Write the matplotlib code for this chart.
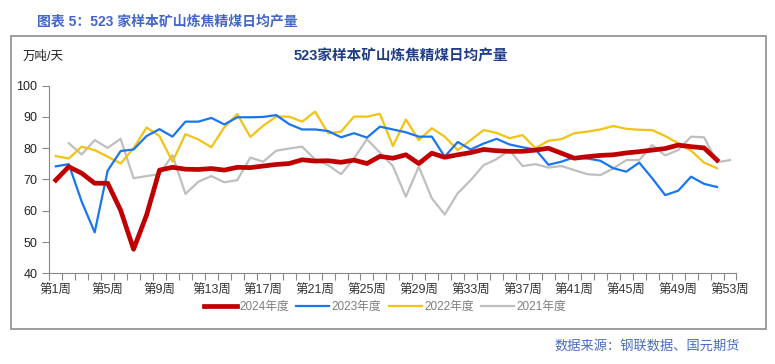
import numpy as np
import matplotlib.pyplot as plt
from matplotlib.patches import Rectangle

plt.rcParams['font.family'] = ['Liberation Sans', 'Noto Sans CJK SC', 'DejaVu Sans']

# weekly average daily output, 10k t/day
weeks = np.arange(1, 54)
y2024 = [69.8, 74.1, 72.0, 68.8, 68.8, 60.2, 47.7, 58.6, 73.0, 73.9,
         73.3, 73.2, 73.5, 73.0, 73.9, 73.8, 74.3, 74.8, 75.1, 76.3,
         75.9, 76.0, 75.5, 76.2, 75.1, 77.4, 76.8, 77.9, 75.1, 78.4,
         77.1, 77.9, 78.6, 79.6, 79.2, 79.0, 79.0, 79.4, 80.0, 78.4,
         76.8, 77.3, 77.7, 77.9, 78.5, 78.9, 79.4, 79.9, 81.0, 80.5,
         80.1, 76.2]
y2023 = [74.2, 74.9, 62.9, 53.1, 72.8, 79.1, 79.6, 83.9, 86.1, 83.7,
         88.5, 88.5, 89.7, 87.6, 89.9, 89.9, 90.0, 90.6, 87.7, 86.0,
         86.0, 85.5, 83.5, 84.8, 83.4, 86.9, 86.0, 85.1, 83.7, 83.7,
         77.3, 82.0, 79.6, 81.5, 83.0, 81.2, 80.3, 79.6, 74.7, 75.7,
         77.1, 76.7, 76.0, 73.6, 72.5, 75.4, 70.4, 65.0, 66.4, 70.9,
         68.6, 67.6]
y2022 = [77.5, 76.7, 80.5, 79.4, 77.3, 75.1, 80.0, 86.6, 83.9, 75.7,
         84.5, 82.8, 80.3, 86.7, 90.9, 83.6, 87.2, 90.1, 90.1, 88.5,
         91.7, 84.8, 85.3, 90.1, 90.1, 91.0, 80.7, 89.2, 82.6, 86.4,
         83.7, 79.4, 82.6, 85.8, 84.9, 83.2, 84.2, 80.0, 82.4, 82.9,
         84.8, 85.3, 86.0, 87.1, 86.2, 85.9, 85.8, 83.9, 81.6, 79.2,
         75.4, 73.6]
y2021 = [np.nan, 81.6, 78.0, 82.6, 80.1, 83.0, 70.4, 71.1, 71.7, 77.8,
         65.4, 69.3, 71.1, 69.1, 69.8, 77.0, 75.7, 79.2, 79.9, 80.5,
         76.4, 74.6, 71.7, 76.7, 82.9, 78.6, 74.3, 64.5, 74.1, 64.0,
         58.8, 65.6, 69.8, 74.6, 76.5, 79.4, 74.3, 74.9, 73.8, 74.3,
         73.0, 71.7, 71.4, 73.5, 76.2, 76.2, 81.0, 77.7, 79.4, 83.7,
         83.5, 75.5, 76.2]
tick_weeks = list(range(1, 54, 4))
tick_labels = ['第%d周' % w for w in tick_weeks]

fig = plt.figure(figsize=(7.75, 3.64), dpi=100)
ax = fig.add_axes([0.0636, 0.2492, 0.8867, 0.5154])

ax.plot(weeks[:len(y2021)], y2021, color='#BFBFBF', lw=1.6, label='2021年度', zorder=2)
ax.plot(weeks[:len(y2022)], y2022, color='#F2C314', lw=1.6, label='2022年度', zorder=3)
ax.plot(weeks[:len(y2023)], y2023, color='#1A75F0', lw=1.6, label='2023年度', zorder=4)
ax.plot(weeks[:len(y2024)], y2024, color='#C00000', lw=3.4, label='2024年度', zorder=5,
        solid_joinstyle='round')

ax.set_xlim(0.5, 53.5)
ax.set_ylim(40, 100)
ax.set_yticks(range(40, 101, 10))
ax.set_xticks(np.arange(0.5, 54, 1), minor=False)
ax.set_xticklabels([])
ax.set_xticks(tick_weeks, minor=True)
ax.set_xticklabels(tick_labels, minor=True)
ax.tick_params(axis='x', which='major', length=5, color='#888888')
ax.tick_params(axis='x', which='minor', length=0, labelsize=9, labelcolor='#333333', pad=8)
ax.tick_params(axis='y', length=5, color='#888888', labelsize=9, labelcolor='#222222')
for s in ['top', 'right']:
    ax.spines[s].set_visible(False)
for s in ['left', 'bottom']:
    ax.spines[s].set_color('#888888')

h, l = ax.get_legend_handles_labels()
order = [3, 2, 1, 0]
leg = fig.legend([h[i] for i in order], [l[i] for i in order], ncol=4,
                 loc='center', bbox_to_anchor=(385 / 775, 1 - 307 / 364),
                 frameon=False, fontsize=8.5, handlelength=2.8, columnspacing=0.6,
                 handletextpad=0.2)
for t in leg.get_texts():
    t.set_color('#7F7F7F')

fig.text(37 / 775, 1 - 22 / 364, '图表 5：523 家样本矿山炼焦精煤日均产量', color='#4466C8',
         fontsize=10, fontweight='bold', va='center', ha='left')
fig.text(401 / 775, 1 - 56 / 364, '523家样本矿山炼焦精煤日均产量', color='#1F3C88',
         fontsize=10.5, fontweight='bold', va='center', ha='center')
fig.text(23 / 775, 1 - 57 / 364, '万吨/天', color='#222222', fontsize=9, va='center', ha='left')
fig.text(740 / 775, 1 - 347 / 364, '数据来源：钢联数据、国元期货', color='#4A6CC4',
         fontsize=9.5, va='center', ha='right')

fig.patches.append(Rectangle((11 / 775, 1 - 329 / 364), 755 / 775, 293 / 364,
                             transform=fig.transFigure, fill=False,
                             edgecolor='#8C8C8C', lw=1.2))

fig.savefig('out.png', dpi=100)
